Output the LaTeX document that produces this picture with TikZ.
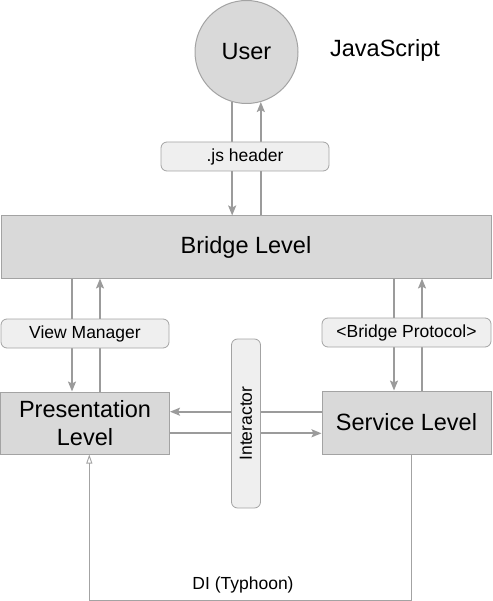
\documentclass[tikz,border=0pt]{standalone}
\usepackage{fontspec}
\setmainfont{Liberation Sans}
\usetikzlibrary{arrows.meta}
\definecolor{boxfill}{HTML}{D9D9D9}
\definecolor{lblfill}{HTML}{EFEFEF}
\definecolor{edge}{HTML}{A3A3A3}
\definecolor{arrcol}{HTML}{9B9B9B}
\begin{document}
\begin{tikzpicture}[x=1pt,y=-1pt,
  bigtext/.style={font=\fontsize{23.5}{28}\selectfont},
  lbltext/.style={font=\fontsize{17.5}{20}\selectfont},
  level/.style={draw=edge, line width=1pt, fill=boxfill, rectangle, inner sep=0pt, bigtext, align=center},
  lbl/.style={draw=edge, line width=0.8pt, fill=lblfill, rounded corners=6pt, inner sep=0pt, lbltext},
  arr/.style={draw=arrcol, line width=1.8pt, -{Stealth[length=10pt,width=8pt,inset=2pt]}},
  diarr/.style={draw=edge, line width=0.9pt, -{Triangle[open,length=9pt,width=6pt]}}]
\useasboundingbox (0,0) rectangle (492,601);

% main nodes
\node[level, circle, minimum size=103pt] (user) at (246.5,52) {User};
\node[bigtext] (js) at (385,50) {JavaScript};
\node[level, minimum width=490pt, minimum height=62pt] (bridge) at (246,247) {Bridge Level};
\node[level, minimum width=169pt, minimum height=62pt] (pres) at (85,423) {Presentation\\Level};
\node[level, minimum width=169pt, minimum height=63pt] (serv) at (406.5,422.5) {Service Level};

% helper coordinates
\coordinate (xa) at (72,0);
\coordinate (xb) at (100,0);
\coordinate (xc) at (394,0);
\coordinate (xd) at (422,0);
\coordinate (ya) at (0,411.7);
\coordinate (yb) at (0,433.3);
\coordinate (dr) at (411.7,600);
\coordinate (dl) at (89.3,600);

% connectors
\draw[arr] (user.-106.7) -- (user.-106.7 |- bridge.north);
\draw[arr] (user.-74.8 |- bridge.north) -- (user.-74.8);
\draw[arr] (xa |- bridge.south) -- (xa |- pres.north);
\draw[arr] (xb |- pres.north) -- (xb |- bridge.south);
\draw[arr] (xc |- bridge.south) -- (xc |- serv.north);
\draw[arr] (xd |- serv.north) -- (xd |- bridge.south);
\draw[arr] (serv.west |- ya) -- (pres.east |- ya);
\draw[arr] (pres.east |- yb) -- (serv.west |- yb);
\draw[diarr] (dr |- serv.south) -- (dr) -- (dl) -- (dl |- pres.south);

% labels
\node[lbl, minimum width=168pt, minimum height=29pt] (jsh) at (245,156.5) {.js header};
\node[lbl, minimum width=168pt, minimum height=29pt] (vm) at (85,333.5) {View Manager};
\node[lbl, minimum width=169pt, minimum height=29pt] (bp) at (406.5,332.5) {<Bridge Protocol>};
\node[lbl, rotate=90, minimum width=169pt, minimum height=29pt] (inter) at (246,423.5) {Interactor};
\node[lbltext] (di) at (243,585) {DI (Typhoon)};
\end{tikzpicture}
\end{document}
